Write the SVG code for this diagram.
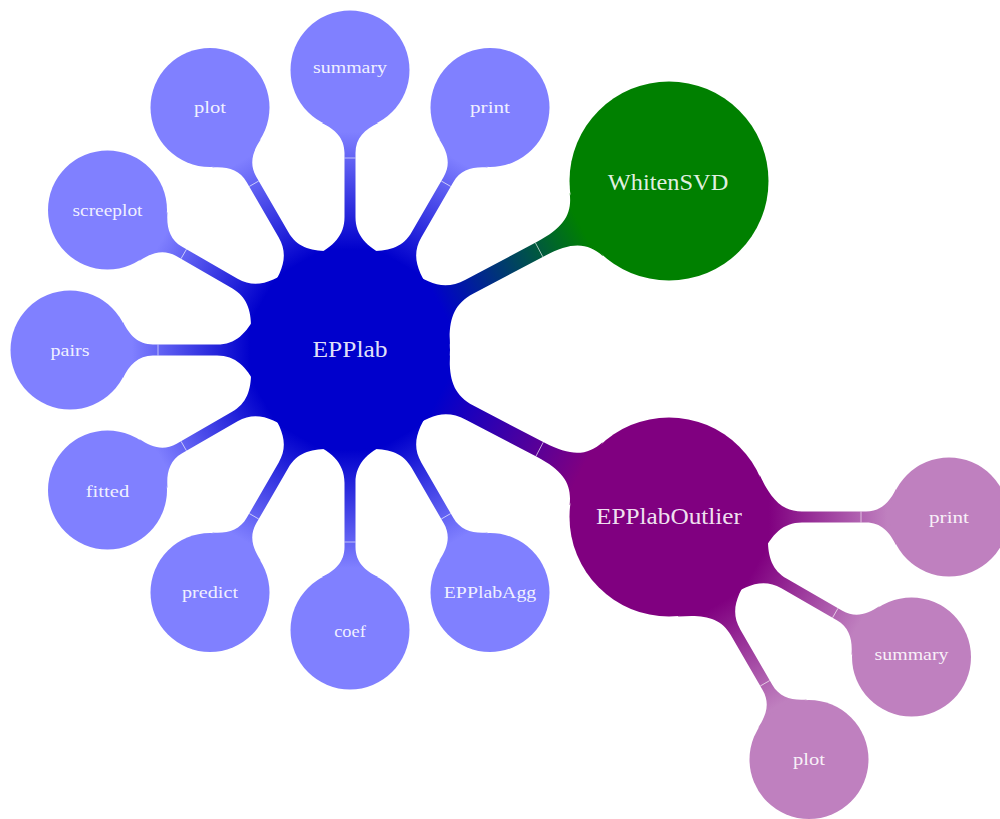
<svg xmlns="http://www.w3.org/2000/svg" width="1000" height="819" viewBox="0 0 1000 819">
  <style>
    .lbl { font-family: "Liberation Serif", "Times New Roman", serif; fill: #ffffff; fill-opacity: 0.9; text-anchor: middle; }
    .big { font-size: 23.5px; }
    .small { font-size: 17.5px; }
    .split { stroke: #ffffff; stroke-opacity: 0.75; stroke-width: 0.8; }
  </style>
  <defs>
    <linearGradient id="gL1" gradientUnits="userSpaceOnUse" x1="100" y1="0" x2="218" y2="0">
      <stop offset="0" stop-color="#0000CC"/>
      <stop offset="1" stop-color="#8080FF"/>
    </linearGradient>
    <linearGradient id="gL2" gradientUnits="userSpaceOnUse" x1="100" y1="0" x2="218" y2="0">
      <stop offset="0" stop-color="#800080"/>
      <stop offset="1" stop-color="#BF80BF"/>
    </linearGradient>
    <linearGradient id="gW" gradientUnits="userSpaceOnUse" x1="100" y1="0" x2="262" y2="0">
      <stop offset="0" stop-color="#0000CC"/>
      <stop offset="1" stop-color="#008000"/>
    </linearGradient>
    <linearGradient id="gO" gradientUnits="userSpaceOnUse" x1="100" y1="0" x2="261" y2="0">
      <stop offset="0" stop-color="#0000CC"/>
      <stop offset="1" stop-color="#800080"/>
    </linearGradient>
    <path id="bar1" d="M90.6,-42.3 C101.2,-19.6 112,-5.5 133,-5.5 L197,-5.5 C212,-5.5 220.7,-15 227,-28.2 L227,28.2 C220.7,15 212,5.5 197,5.5 L133,5.5 C112,5.5 101.2,19.6 90.6,42.3 Z"/>
    <line id="split1" x1="192" y1="-5.5" x2="192" y2="5.5"/>
  </defs>

  <g id="connectors">
    <g transform="translate(350,350) rotate(-90)"><use href="#bar1" fill="url(#gL1)"/><use href="#split1" class="split"/></g>
    <g transform="translate(350,350) rotate(-60)"><use href="#bar1" fill="url(#gL1)"/><use href="#split1" class="split"/></g>
    <g transform="translate(350,350) rotate(-120)"><use href="#bar1" fill="url(#gL1)"/><use href="#split1" class="split"/></g>
    <g transform="translate(350,350) rotate(-150)"><use href="#bar1" fill="url(#gL1)"/><use href="#split1" class="split"/></g>
    <g transform="translate(350,350) rotate(180)"><use href="#bar1" fill="url(#gL1)"/><use href="#split1" class="split"/></g>
    <g transform="translate(350,350) rotate(150)"><use href="#bar1" fill="url(#gL1)"/><use href="#split1" class="split"/></g>
    <g transform="translate(350,350) rotate(120)"><use href="#bar1" fill="url(#gL1)"/><use href="#split1" class="split"/></g>
    <g transform="translate(350,350) rotate(90)"><use href="#bar1" fill="url(#gL1)"/><use href="#split1" class="split"/></g>
    <g transform="translate(350,350) rotate(60)"><use href="#bar1" fill="url(#gL1)"/><use href="#split1" class="split"/></g>

    <g transform="translate(350,350) rotate(-27.92)">
      <path fill="url(#gW)" d="M90.6,-42.3 C101.2,-19.6 113,-8 135,-8 L216,-8 C248,-8 260.4,-17.1 267.6,-35.8 L267.6,35.8 C260.4,17.1 248,8 216,8 L135,8 C113,8 101.2,19.6 90.6,42.3 Z"/>
      <line class="split" x1="214" y1="-8" x2="214" y2="8"/>
    </g>
    <g transform="translate(350,350) rotate(27.63)">
      <path fill="url(#gO)" d="M90.6,-42.3 C101.2,-19.6 113,-8 135,-8 L215,-8 C247,-8 259.4,-17.1 266.6,-35.8 L266.6,35.8 C259.4,17.1 247,8 215,8 L135,8 C113,8 101.2,19.6 90.6,42.3 Z"/>
      <line class="split" x1="214" y1="-8" x2="214" y2="8"/>
    </g>

    <g transform="translate(669,517) rotate(0)"><use href="#bar1" fill="url(#gL2)"/><use href="#split1" class="split"/></g>
    <g transform="translate(669,517) rotate(30)"><use href="#bar1" fill="url(#gL2)"/><use href="#split1" class="split"/></g>
    <g transform="translate(669,517) rotate(60)"><use href="#bar1" fill="url(#gL2)"/><use href="#split1" class="split"/></g>
  </g>

  <g id="node-epplab">
    <circle cx="350" cy="350" r="100" fill="#0000CC"/>
    <text class="lbl big" x="350" y="357" textLength="75" lengthAdjust="spacingAndGlyphs">EPPlab</text>
  </g>
  <g id="node-summary">
    <circle cx="350" cy="70" r="59.5" fill="#8080FF"/>
    <text class="lbl small" x="350" y="73" textLength="74" lengthAdjust="spacingAndGlyphs">summary</text>
  </g>
  <g id="node-print">
    <circle cx="490" cy="107.5" r="59.5" fill="#8080FF"/>
    <text class="lbl small" x="490" y="113" textLength="40" lengthAdjust="spacingAndGlyphs">print</text>
  </g>
  <g id="node-plot">
    <circle cx="210" cy="107.5" r="59.5" fill="#8080FF"/>
    <text class="lbl small" x="210" y="113" textLength="32" lengthAdjust="spacingAndGlyphs">plot</text>
  </g>
  <g id="node-screeplot">
    <circle cx="107.5" cy="210" r="59.5" fill="#8080FF"/>
    <text class="lbl small" x="107.5" y="215.5" textLength="70" lengthAdjust="spacingAndGlyphs">screeplot</text>
  </g>
  <g id="node-pairs">
    <circle cx="70" cy="350" r="59.5" fill="#8080FF"/>
    <text class="lbl small" x="70" y="355.5" textLength="39" lengthAdjust="spacingAndGlyphs">pairs</text>
  </g>
  <g id="node-fitted">
    <circle cx="107.5" cy="490" r="59.5" fill="#8080FF"/>
    <text class="lbl small" x="107.5" y="497" textLength="43.5" lengthAdjust="spacingAndGlyphs">fitted</text>
  </g>
  <g id="node-predict">
    <circle cx="210" cy="592.5" r="59.5" fill="#8080FF"/>
    <text class="lbl small" x="210" y="598" textLength="56" lengthAdjust="spacingAndGlyphs">predict</text>
  </g>
  <g id="node-coef">
    <circle cx="350" cy="630" r="59.5" fill="#8080FF"/>
    <text class="lbl small" x="350" y="637" textLength="31.5" lengthAdjust="spacingAndGlyphs">coef</text>
  </g>
  <g id="node-epplabagg">
    <circle cx="490" cy="592.5" r="59.5" fill="#8080FF"/>
    <text class="lbl small" x="490" y="598" textLength="92.5" lengthAdjust="spacingAndGlyphs">EPPlabAgg</text>
  </g>
  <g id="node-whitensvd">
    <circle cx="669" cy="181" r="99.5" fill="#008000"/>
    <text class="lbl big" x="668" y="190" textLength="120.5" lengthAdjust="spacingAndGlyphs">WhitenSVD</text>
  </g>
  <g id="node-epplaboutlier">
    <circle cx="669" cy="517" r="99.5" fill="#800080"/>
    <text class="lbl big" x="669" y="523.5" textLength="146" lengthAdjust="spacingAndGlyphs">EPPlabOutlier</text>
  </g>
  <g id="node-outlier-print">
    <circle cx="949" cy="517" r="59.5" fill="#BF80BF"/>
    <text class="lbl small" x="949" y="522.5" textLength="40" lengthAdjust="spacingAndGlyphs">print</text>
  </g>
  <g id="node-outlier-summary">
    <circle cx="911.5" cy="657" r="59.5" fill="#BF80BF"/>
    <text class="lbl small" x="911.5" y="660" textLength="74" lengthAdjust="spacingAndGlyphs">summary</text>
  </g>
  <g id="node-outlier-plot">
    <circle cx="809" cy="759.5" r="59.5" fill="#BF80BF"/>
    <text class="lbl small" x="809" y="765" textLength="32" lengthAdjust="spacingAndGlyphs">plot</text>
  </g>
</svg>
